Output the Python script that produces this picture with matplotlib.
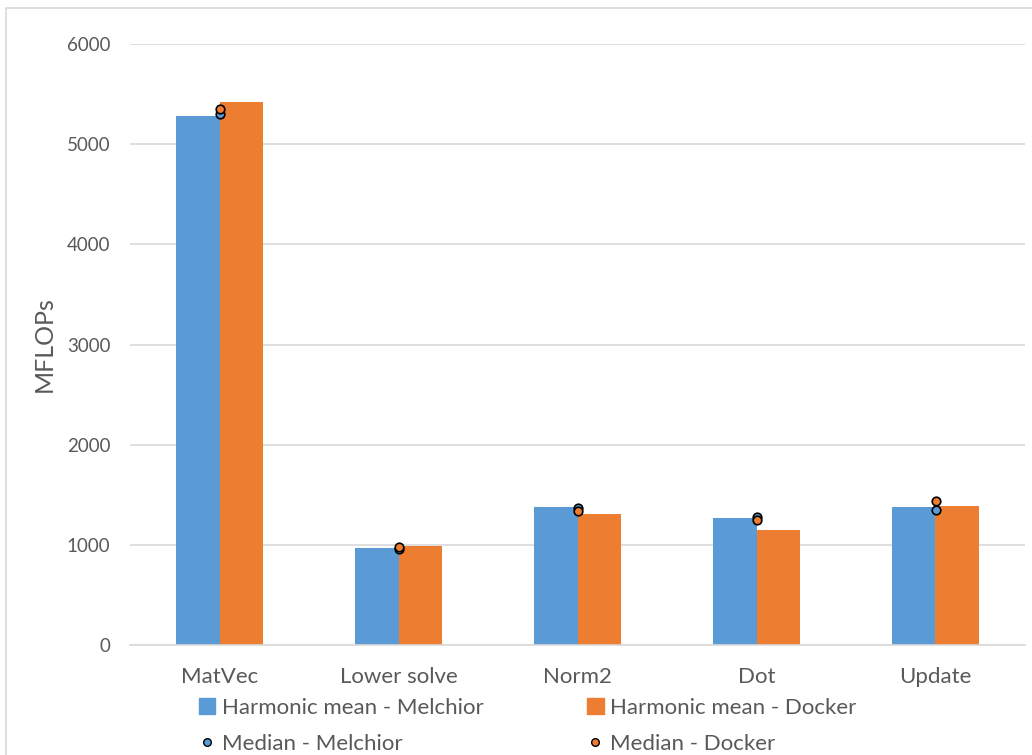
import numpy as np
import matplotlib
matplotlib.use("Agg")
import matplotlib.pyplot as plt
from matplotlib.lines import Line2D
from matplotlib.patches import Patch, Rectangle

# MFLOPs per kernel
kernels = ["MatVec", "Lower solve", "Norm2", "Dot", "Update"]
hmean_melchior = [5280, 968, 1377, 1267, 1377]
hmean_docker = [5419, 988, 1307, 1148, 1387]
median_melchior = [5305, 958, 1367, 1277, 1347]
median_docker = [5355, 978, 1340, 1247, 1437]
yticks = [0, 1000, 2000, 3000, 4000, 5000, 6000]

BLUE = "#5b9bd5"
ORANGE = "#ed7d31"
TEXT = "#595959"
GRID = "#d9d9d9"

plt.rcParams["font.family"] = ["Lato", "DejaVu Sans"]

fig = plt.figure(figsize=(10.32, 7.55), dpi=100)
ax = fig.add_axes([130 / 1032, 1 - 645 / 755, 895 / 1032, 601 / 755])

x = np.arange(len(kernels))
w = 0.245
ax.bar(x - w / 2, hmean_melchior, w, color=BLUE, zorder=2)
ax.bar(x + w / 2, hmean_docker, w, color=ORANGE, zorder=2)
ax.scatter(x, median_melchior, s=38, color=BLUE, edgecolor="black",
           linewidth=1.2, zorder=3)
ax.scatter(x, median_docker, s=38, color=ORANGE, edgecolor="black",
           linewidth=1.2, zorder=4)

ax.set_xlim(-0.5, len(kernels) - 0.5)
ax.set_ylim(0, 6000)
ax.set_yticks(yticks)
ax.set_xticks(x)
ax.set_xticklabels(kernels)
ax.yaxis.grid(True, color=GRID, linewidth=1.2, zorder=0)
ax.set_axisbelow(True)
for side in ["top", "right", "left"]:
    ax.spines[side].set_visible(False)
ax.spines["bottom"].set_color(GRID)
ax.spines["bottom"].set_linewidth(1.2)
ax.tick_params(axis="both", length=0, colors=TEXT)
ax.tick_params(axis="x", labelsize=16, pad=16)
ax.tick_params(axis="y", labelsize=13.5, pad=14)
ax.set_ylabel("MFLOPs", fontsize=18, color=TEXT, labelpad=8)

handles = [
    Patch(color=BLUE, label="Harmonic mean - Melchior"),
    Line2D([], [], marker="o", ls="", markersize=5.5, markerfacecolor=BLUE,
           markeredgecolor="black", label="Median - Melchior"),
    Patch(color=ORANGE, label="Harmonic mean - Docker"),
    Line2D([], [], marker="o", ls="", markersize=5.5, markerfacecolor=ORANGE,
           markeredgecolor="black", label="Median - Docker"),
]
leg = fig.legend(handles=handles, ncol=2, loc="upper left",
                 bbox_to_anchor=(183 / 1032, 1 - 682 / 755), frameon=False,
                 fontsize=16, columnspacing=4.65, handlelength=0.75,
                 handleheight=0.75, handletextpad=0.3, labelspacing=0.75,
                 borderpad=0.2)
for t in leg.get_texts():
    t.set_color(TEXT)

# outer chart frame
fig.patches.append(Rectangle((6 / 1032, -0.1), 1.2, 1 - 8 / 755 + 0.1,
                             transform=fig.transFigure, fill=False,
                             edgecolor="#d9d9d9", linewidth=1.2))

fig.savefig("out.png", dpi=100)
